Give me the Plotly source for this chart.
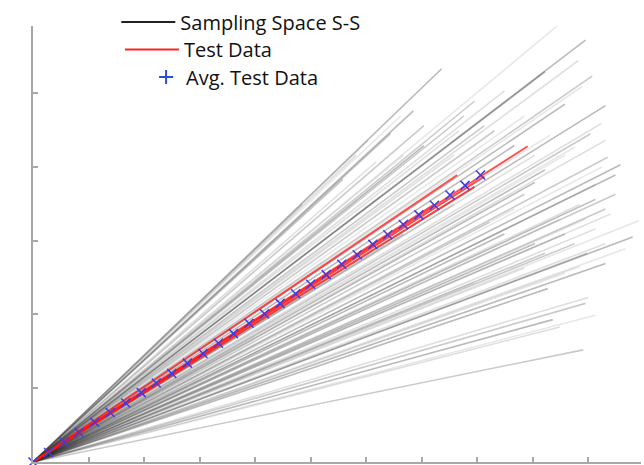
import plotly.graph_objects as go

# End points of each simulated path in the sampling space (all start at the origin)
sample_x_end = [
    5.82, 6.44, 6.62, 7.36, 6.18, 5.58, 6.04, 6.85, 4.85, 7.04,
    9.44, 9.95, 9.82, 10.07, 9.89, 9.22, 8.49, 7.95, 8.85, 9.58,
    7.67, 8.31, 9.31, 10.31, 10.24, 10.04, 9.76, 10.58,
    10.31, 10.35, 10.25, 10.49, 10.13, 10.49, 9.58, 9.22, 9.85, 10.31,
    10.91, 10.80, 8.22, 8.85, 9.49, 8.49, 10.13, 9.76, 10.67, 9.04,
    7.58, 6.67, 8.67, 10.13, 10.40, 9.58, 9.95, 9.04, 10.31,
    9.98, 9.85, 9.27, 10.00, 9.95, 10.13, 9.36, 9.49, 9.91, 9.58,
    10.31, 8.85, 9.22, 7.95,
    7.04, 7.58, 8.13, 6.67, 8.67, 9.04, 7.76, 6.31,
]
sample_y_end = [
    4.16, 4.45, 4.69, 5.33, 4.07, 3.83, 4.36, 4.76, 3.49, 4.56,
    5.91, 5.72, 5.44, 5.23, 5.09, 5.29, 5.03, 4.89, 4.69, 4.85,
    4.49, 4.49, 4.43, 4.83, 4.59, 4.45, 4.27, 4.03,
    4.36, 4.13, 4.00, 3.89, 3.76, 3.63, 4.16, 3.96, 3.49, 3.43,
    3.27, 3.05, 3.25, 3.63, 3.29, 3.09, 3.16, 2.96, 2.89, 3.79,
    3.49, 3.09, 3.43, 3.56, 3.36, 3.09, 3.29, 2.96, 2.96,
    2.83, 2.65, 2.35, 2.23, 2.15, 1.99, 1.93, 1.83, 1.52, 2.56,
    2.69, 2.63, 2.83, 2.43,
    4.29, 4.16, 4.56, 4.16, 4.29, 4.16, 4.69, 3.63,
]

# End points of the measured test curves
test_x_end = [8.91, 7.64, 8.13, 7.95, 7.22]
test_y_end = [4.28, 3.89, 3.87, 3.73, 3.49]

# Averaged test data
avg_x = [0.00, 0.28, 0.56, 0.83, 1.11, 1.39, 1.67, 1.95, 2.22, 2.50,
         2.78, 3.06, 3.34, 3.61, 3.89, 4.17, 4.45, 4.73, 5.00, 5.28,
         5.56, 5.84, 6.12, 6.39, 6.67, 6.95, 7.23, 7.51, 7.78, 8.06]
avg_y = [0.00, 0.13, 0.27, 0.40, 0.54, 0.67, 0.80, 0.94, 1.07, 1.20,
         1.34, 1.47, 1.61, 1.74, 1.88, 2.01, 2.15, 2.28, 2.41, 2.54,
         2.68, 2.81, 2.95, 3.08, 3.22, 3.35, 3.48, 3.62, 3.75, 3.89]

gray_shades = ["rgba(60,60,60,0.17)", "rgba(50,50,50,0.26)",
               "rgba(70,70,70,0.13)", "rgba(40,40,40,0.32)"]

fig = go.Figure()

for i, (xe, ye) in enumerate(zip(sample_x_end, sample_y_end)):
    fig.add_trace(go.Scatter(
        x=[0, xe], y=[0, ye], mode="lines",
        line=dict(color=gray_shades[i % len(gray_shades)], width=1.6),
        showlegend=False, hoverinfo="skip"))

for xe, ye in zip(test_x_end, test_y_end):
    fig.add_trace(go.Scatter(
        x=[0, xe], y=[0, ye], mode="lines",
        line=dict(color="rgba(255,20,20,0.75)", width=2),
        showlegend=False, hoverinfo="skip"))

fig.add_trace(go.Scatter(
    x=avg_x, y=avg_y, mode="markers",
    marker=dict(symbol="x-thin", size=9, line=dict(color="rgb(60,60,235)", width=1.5)),
    showlegend=False, cliponaxis=False))

# Legend entries, one small legend per row so each row can be placed freely
fig.add_trace(go.Scatter(x=[None], y=[None], mode="lines",
                         line=dict(color="#222222", width=2),
                         name="Sampling Space S-S", legend="legend"))
fig.add_trace(go.Scatter(x=[None], y=[None], mode="lines",
                         line=dict(color="#ff2020", width=2),
                         name="Test Data", legend="legend2"))
fig.add_trace(go.Scatter(x=[None], y=[None], mode="markers",
                         marker=dict(symbol="cross-thin", size=10,
                                     line=dict(color="rgb(40,80,200)", width=2)),
                         name="Avg. Test Data", legend="legend3"))

axis_style = dict(showgrid=False, zeroline=False, showline=True,
                  linecolor="#a8a8a8", linewidth=2,
                  ticks="inside", ticklen=5, tickwidth=1.5, tickcolor="#a8a8a8",
                  showticklabels=False, dtick=1, tick0=0)

legend_font = dict(family="Open Sans", size=20, color="#111111")
legend_common = dict(xanchor="left", yanchor="middle",
                     bgcolor="rgba(0,0,0,0)", font=legend_font)

fig.update_layout(
    width=644, height=465,
    margin=dict(l=33, r=3, t=19, b=3),
    plot_bgcolor="white", paper_bgcolor="white",
    xaxis=dict(range=[0, 10.95], **axis_style),
    yaxis=dict(range=[0, 5.91], **axis_style),
    legend=dict(x=0.137, y=1.009, itemwidth=54, **legend_common),
    legend2=dict(x=0.143, y=0.946, itemwidth=54, **legend_common),
    legend3=dict(x=0.186, y=0.883, itemwidth=30, **legend_common),
)

fig.write_html("out.html")
